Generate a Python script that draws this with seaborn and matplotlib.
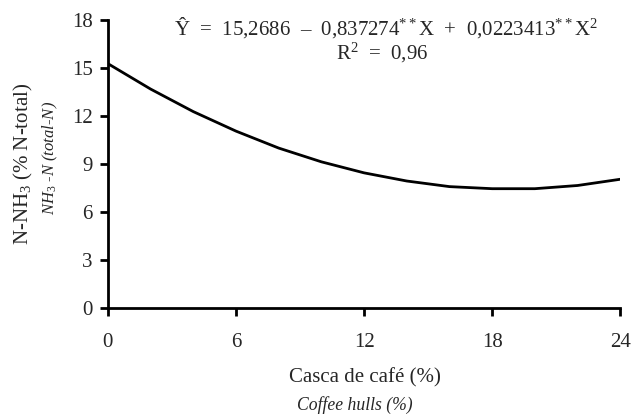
import pandas as pd
import numpy as np
import seaborn as sns
import matplotlib.pyplot as plt

# values
casca = [0, 2, 4, 6, 8, 10, 12, 14, 16, 18, 20, 22, 24]
n_nh3 = [15.27, 13.68, 12.27, 11.05, 9.99, 9.13, 8.44, 7.93, 7.58, 7.45, 7.45, 7.65, 8.04]
x_ticks = [0, 6, 12, 18, 24]
y_ticks = [0, 3, 6, 9, 12, 15, 18]

df = pd.DataFrame({'casca': casca, 'nh3': n_nh3})

sns.set_style('ticks')
plt.rcParams['font.family'] = ['Liberation Serif', 'DejaVu Serif']
plt.rcParams['mathtext.fontset'] = 'custom'
plt.rcParams['mathtext.rm'] = 'Liberation Serif'
plt.rcParams['mathtext.it'] = 'Liberation Serif:italic'

fig = plt.figure(figsize=(6.31, 4.16), dpi=100)
ax = fig.add_axes([0.171, 0.26, 0.812, 0.692])

sns.lineplot(data=df, x='casca', y='nh3', color='black', linewidth=2, ax=ax)

ax.set_xlim(0, 24)
ax.set_ylim(0, 18)
ax.set_xticks(x_ticks)
ax.set_yticks(y_ticks)
ax.tick_params(axis='both', labelsize=15, width=2, length=6, color='black')
ax.tick_params(axis='x', pad=12)
ax.tick_params(axis='y', pad=5)
sns.despine(ax=ax)
for s in ['left', 'bottom']:
    ax.spines[s].set_linewidth(2)
    ax.spines[s].set_color('black')
ax.set_xlabel('')
ax.set_ylabel('')

# axis titles (portuguese + english italic)
fig.text(0.578, 0.091, 'Casca de café (%)', ha='center', va='center', fontsize=15)
fig.text(0.563, 0.026, 'Coffee hulls (%)', ha='center', va='center', fontsize=12.7, style='italic')
fig.text(0.037, 0.606, r'N-NH$_\mathrm{3}$ (% N-total)', ha='center', va='center',
         rotation=90, fontsize=15)
fig.text(0.080, 0.620, r'$\mathit{NH_3}$ -N (total-N)', ha='center', va='center',
         rotation=90, fontsize=12, style='italic')

# regression equation
ax.text(0.543, 0.972, r'Ŷ  =  15,2686  –  0,837274$^{**}$X  +  0,0223413$^{**}$X$^\mathrm{2}$',
        transform=ax.transAxes, ha='center', va='center', fontsize=15)
ax.text(0.535, 0.885, r'R$^\mathrm{2}$  =  0,96', transform=ax.transAxes,
        ha='center', va='center', fontsize=15)

plt.savefig('out.png', dpi=100)
